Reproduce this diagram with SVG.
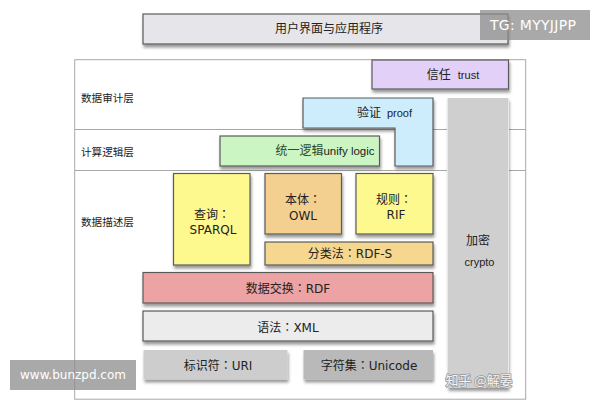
<svg xmlns="http://www.w3.org/2000/svg" width="600" height="400" viewBox="0 0 600 400">
<style>
text{font-family:"DejaVu Sans","Noto Sans CJK SC",sans-serif;font-size:12px;fill:#222;text-anchor:middle}
.h{font-family:"Liberation Sans","Noto Sans CJK SC",sans-serif}
.c{font-family:"Noto Sans CJK TC",sans-serif}
text.l{font-family:"Noto Sans CJK SC",sans-serif;font-size:10.6px;text-anchor:start;fill:#222}
.b{stroke:#5a5a5a;stroke-width:1.2;filter:url(#s)}
.n{stroke:none;filter:url(#s)}
.f{fill:none;stroke:#a8a8a8;stroke-width:1}
text.w{fill:#fff;font-family:"DejaVu Sans",sans-serif;text-anchor:start}
.wm{fill:#8c8c8c;fill-opacity:.75}
text.z{font-family:"Noto Sans CJK SC",sans-serif;font-size:13px;fill:#f4f4f4;stroke:#9a9a9a;stroke-width:1.6;paint-order:stroke}
</style>
<defs>
<filter id="s" x="-10%" y="-20%" width="125%" height="150%"><feDropShadow dx="1" dy="3" stdDeviation="1.8" flood-color="#000" flood-opacity=".4"/></filter>
</defs>
<rect width="600" height="400" fill="#fff"/>
<g id="frame">
<rect class="f" x="74.7" y="59.7" width="451" height="339.5"/>
<path class="f" d="M75 129.5H526M75 170.5H526"/>
<text class="l" x="81" y="102">数据审计层</text>
<text class="l" x="81" y="156">计算逻辑层</text>
<text class="l" x="81" y="226">数据描述层</text>
</g>
<g id="user"><rect class="b" x="143" y="14" width="365" height="30" fill="#e6e6ea"/><text x="329" y="33">用户界面与应用程序</text></g>
<g id="crypto"><rect class="n" x="447.500" y="98" width="61" height="290" fill="#cfcfcf"/><path d="M447.500 98V388M508.500 98V388" stroke="#e8e8e8" fill="none"/><text x="478" y="245">加密</text><text class="h" x="479.500" y="266" style="font-size:11px">crypto</text></g>
<g id="trust"><rect class="b" x="372" y="60" width="136.500" height="29" fill="#e2d0f8"/><text x="453" y="79"><tspan>信任</tspan><tspan class="h" dx="7" font-size="11">trust</tspan></text></g>
<g id="proof"><path class="b" d="M303 98H433V166H395V128H303Z" fill="#cdedfd"/><text x="384.500" y="117"><tspan>验证</tspan><tspan class="h" dx="6" font-size="11">proof</tspan></text></g>
<g id="unify"><rect class="b" x="220" y="136" width="159.500" height="30" fill="#ccf5c4"/><text x="325" y="155"><tspan fill="#2a4a2a">统一逻辑</tspan><tspan class="h" font-size="11.500">unify logic</tspan></text></g>
<g id="sparql"><rect class="b" x="173.500" y="173.500" width="76.500" height="91.500" fill="#fdf98f"/><text x="212" y="219">查询<tspan class="c">：</tspan></text><text x="213" y="234">SPARQL</text></g>
<g id="owl"><rect class="b" x="265" y="173.500" width="76.500" height="60.500" fill="#f3cf90"/><text x="303" y="204">本体<tspan class="c">：</tspan></text><text x="303" y="220">OWL</text></g>
<g id="rif"><rect class="b" x="356" y="173.500" width="77" height="60.500" fill="#fdf98f"/><text x="394" y="204">规则<tspan class="c">：</tspan></text><text x="396" y="219">RIF</text></g>
<g id="rdfs"><rect class="b" x="265" y="242" width="168" height="23" fill="#f6d78f"/><text x="350" y="258">分类法<tspan class="c">：</tspan>RDF-S</text></g>
<g id="rdf"><rect class="b" x="143" y="272.500" width="290" height="30.500" fill="#eda3a3"/><text x="288" y="293">数据交换<tspan class="c">：</tspan>RDF</text></g>
<g id="xml"><rect class="b" x="143" y="311" width="290" height="30" fill="#ececec"/><text x="288" y="332">语法<tspan class="c">：</tspan>XML</text></g>
<g id="uri"><rect class="n" x="143.500" y="350" width="144" height="29.500" fill="#cdcdcd"/><text x="218" y="370">标识符<tspan class="c">：</tspan>URI</text></g>
<g id="unicode"><rect class="n" x="303.500" y="350" width="129.500" height="29.500" fill="#b9b9b9"/><text x="369" y="370">字符集<tspan class="c">：</tspan>Unicode</text></g>
<g id="watermarks">
<rect class="wm" x="480" y="10" width="110" height="30"/><text class="w" x="490" y="30" style="font-size:14px;letter-spacing:.3px">TG: MYYJJPP</text>
<rect class="wm" x="10" y="360" width="126" height="30"/><text class="w" x="20" y="379">www.bunzpd.com</text>
<text class="z" x="479" y="385">知乎 @解晏</text>
</g>
</svg>
